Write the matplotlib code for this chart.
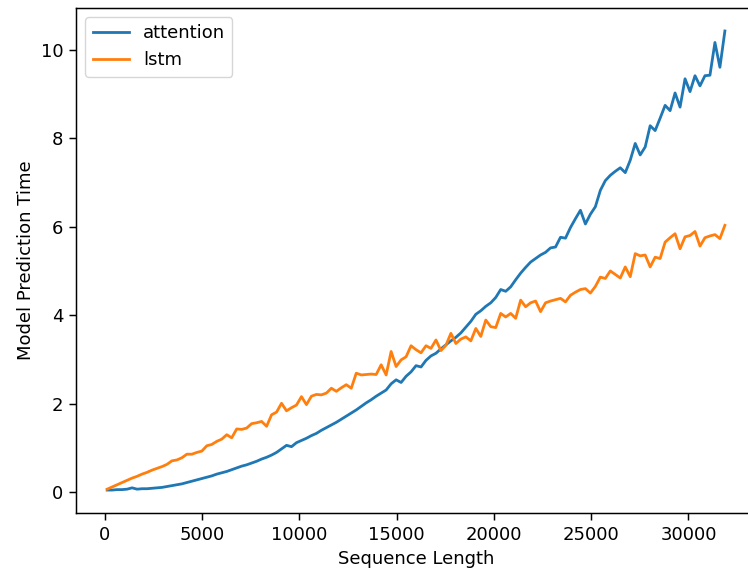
import matplotlib
matplotlib.use('Agg')
import matplotlib.pyplot as plt

# sequence lengths, 128 to 31872 in steps of 256
seq_len = list(range(128, 32000, 256))

attention = [
    0.05, 0.05, 0.06, 0.06, 0.07, 0.10, 0.07, 0.08, 0.08, 0.09,
    0.10, 0.11, 0.13, 0.15, 0.17, 0.19, 0.22, 0.25, 0.28, 0.31,
    0.34, 0.37, 0.41, 0.44, 0.47, 0.51, 0.55, 0.59, 0.62, 0.66,
    0.70, 0.75, 0.79, 0.84, 0.90, 0.98, 1.06, 1.03, 1.12, 1.17,
    1.22, 1.28, 1.33, 1.40, 1.46, 1.52, 1.58, 1.65, 1.72, 1.79,
    1.86, 1.94, 2.02, 2.09, 2.17, 2.24, 2.31, 2.45, 2.54, 2.48,
    2.62, 2.72, 2.86, 2.83, 2.98, 3.08, 3.14, 3.24, 3.33, 3.42,
    3.50, 3.60, 3.73, 3.86, 4.02, 4.10, 4.20, 4.28, 4.40, 4.58,
    4.54, 4.64, 4.80, 4.95, 5.08, 5.20, 5.28, 5.36, 5.42, 5.52,
    5.54, 5.76, 5.74, 5.98, 6.18, 6.37, 6.06, 6.28, 6.45, 6.82,
    7.04, 7.16, 7.25, 7.33, 7.22, 7.50, 7.88, 7.62, 7.80, 8.28,
    8.17, 8.45, 8.74, 8.62, 9.02, 8.70, 9.34, 9.05, 9.41, 9.18,
    9.41, 9.42, 10.16, 9.60, 10.42,
]

lstm = [
    0.07, 0.12, 0.17, 0.22, 0.27, 0.32, 0.36, 0.41, 0.45, 0.50,
    0.54, 0.58, 0.63, 0.71, 0.73, 0.78, 0.86, 0.86, 0.90, 0.93,
    1.05, 1.08, 1.15, 1.20, 1.30, 1.23, 1.43, 1.42, 1.45, 1.55,
    1.57, 1.60, 1.49, 1.75, 1.81, 2.01, 1.84, 1.91, 1.97, 2.16,
    1.98, 2.17, 2.21, 2.20, 2.24, 2.35, 2.28, 2.36, 2.43, 2.35,
    2.69, 2.65, 2.66, 2.67, 2.66, 2.88, 2.65, 3.18, 2.84, 2.99,
    3.06, 3.31, 3.22, 3.15, 3.31, 3.25, 3.44, 3.20, 3.32, 3.59,
    3.36, 3.46, 3.51, 3.42, 3.70, 3.52, 3.89, 3.74, 3.72, 4.04,
    3.96, 4.04, 3.93, 4.34, 4.19, 4.28, 4.32, 4.08, 4.28, 4.32,
    4.35, 4.38, 4.30, 4.45, 4.52, 4.58, 4.60, 4.50, 4.65, 4.86,
    4.83, 5.00, 4.92, 4.84, 5.09, 4.87, 5.39, 5.34, 5.36, 5.09,
    5.31, 5.28, 5.65, 5.75, 5.84, 5.50, 5.77, 5.80, 5.89, 5.56,
    5.75, 5.79, 5.82, 5.73, 6.03,
]

# reference looks like a default figure rendered ~1.33x larger
plt.rcParams['font.size'] = 13
plt.rcParams['lines.linewidth'] = 2.0
plt.rcParams['axes.linewidth'] = 1.07
for a in ('xtick', 'ytick'):
    plt.rcParams[a + '.major.size'] = 4.7
    plt.rcParams[a + '.major.width'] = 1.07
    plt.rcParams[a + '.major.pad'] = 4.7

fig = plt.figure(figsize=(7.48, 5.73), dpi=100)
# right spine sits just past the image edge, as in the reference crop
ax = fig.add_axes([0.102, 0.1047, 0.9084, 0.8813])

ax.plot(seq_len, attention, label='attention')
ax.plot(seq_len, lstm, label='lstm')
ax.set_xlabel('Sequence Length')
ax.set_ylabel('Model Prediction Time')
ax.legend(loc='upper left')

fig.savefig('out.png', dpi=100)
